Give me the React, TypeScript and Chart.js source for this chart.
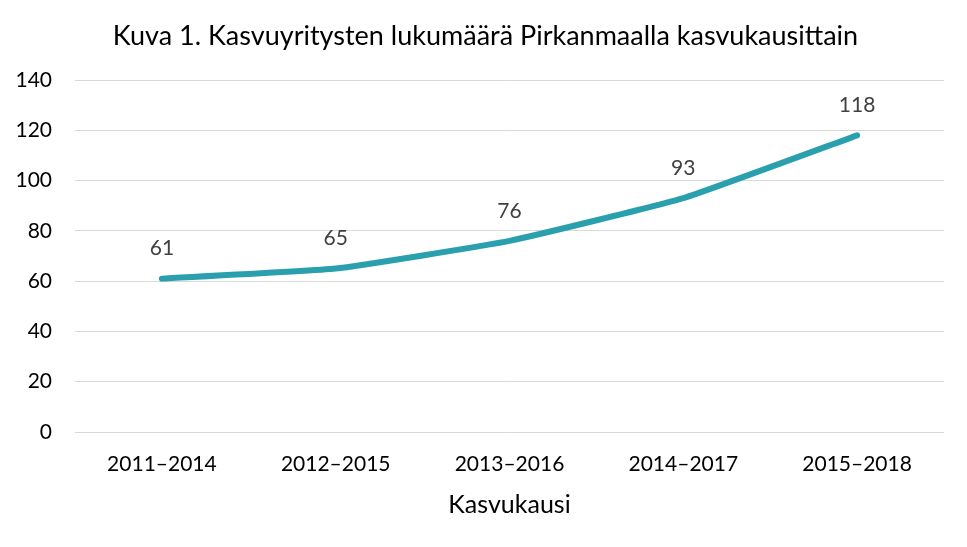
import React, { useEffect, useRef } from "react";
import { Chart, registerables } from "chart.js";

Chart.register(...registerables);

const TITLE = "Kuva 1. Kasvuyritysten lukumäärä Pirkanmaalla kasvukausittain";
const X_TITLE = "Kasvukausi";
const CATEGORIES = ["2011–2014", "2012–2015", "2013–2016", "2014–2017", "2015–2018"];
const VALUES = [61, 65, 76, 93, 118];
const Y_MIN = 0;
const Y_MAX = 140;
const Y_STEP = 20;

const FONT = "Lato, 'Open Sans', sans-serif";

const labelPlugin = {
  id: "pointLabels",
  afterDatasetsDraw(chart: any) {
    const ctx = chart.ctx;
    const meta = chart.getDatasetMeta(0);
    ctx.save();
    ctx.fillStyle = "#404040";
    ctx.font = `21px ${FONT}`;
    ctx.textAlign = "center";
    ctx.textBaseline = "middle";
    meta.data.forEach((pt: any, i: number) => {
      ctx.fillText(String(VALUES[i]), pt.x, pt.y - 30);
    });
    ctx.restore();
  },
};

const titlePlugin = {
  id: "topTitle",
  afterDraw(chart: any) {
    const ctx = chart.ctx;
    ctx.save();
    ctx.fillStyle = "#000000";
    ctx.font = `27px ${FONT}`;
    ctx.textAlign = "center";
    ctx.textBaseline = "middle";
    ctx.fillText(TITLE, chart.width / 2 + 2, 36);
    ctx.restore();
  },
};

export default function App() {
  const ref = useRef<HTMLCanvasElement>(null);
  useEffect(() => {
    if (!ref.current) return;
    const chart = new Chart(ref.current, {
      type: "line",
      data: {
        labels: CATEGORIES,
        datasets: [
          {
            data: VALUES,
            borderColor: "#2A9FAD",
            borderWidth: 6,
            borderCapStyle: "round",
            borderJoinStyle: "round",
            pointRadius: 0,
            tension: 0.12,
            fill: false,
          },
        ],
      },
      options: {
        animation: false,
        responsive: false,
        maintainAspectRatio: false,
        layout: { padding: { top: 80, right: 23, left: 0, bottom: 0 } },
        plugins: {
          legend: { display: false },
          tooltip: { enabled: false },
          title: { display: false },
        },
        scales: {
          x: {
            offset: true,
            grid: { display: false, drawTicks: false },
            border: { display: false },
            ticks: { color: "#000", font: { family: FONT, size: 21 }, padding: 20, maxRotation: 0 },
            title: {
              display: true,
              text: X_TITLE,
              color: "#000",
              font: { family: FONT, size: 25 },
              padding: { top: 12, bottom: 27 },
            },
            afterFit(scale: any) {
              scale.height = 115;
            },
          },
          y: {
            min: Y_MIN,
            max: Y_MAX,
            grid: { color: "#D9D9D9", lineWidth: 1, drawTicks: false },
            border: { display: false },
            ticks: {
              stepSize: Y_STEP,
              color: "#000",
              font: { family: FONT, size: 21 },
              padding: 23,
            },
            afterFit(scale: any) {
              scale.width = 75;
            },
          },
        },
      },
      plugins: [labelPlugin, titlePlugin],
    });
    return () => chart.destroy();
  }, []);
  return (
    <div style={{ position: "absolute", left: 0, top: 0, width: 967, height: 547, background: "#fff" }}>
      <canvas ref={ref} width={967} height={547} />
    </div>
  );
}
